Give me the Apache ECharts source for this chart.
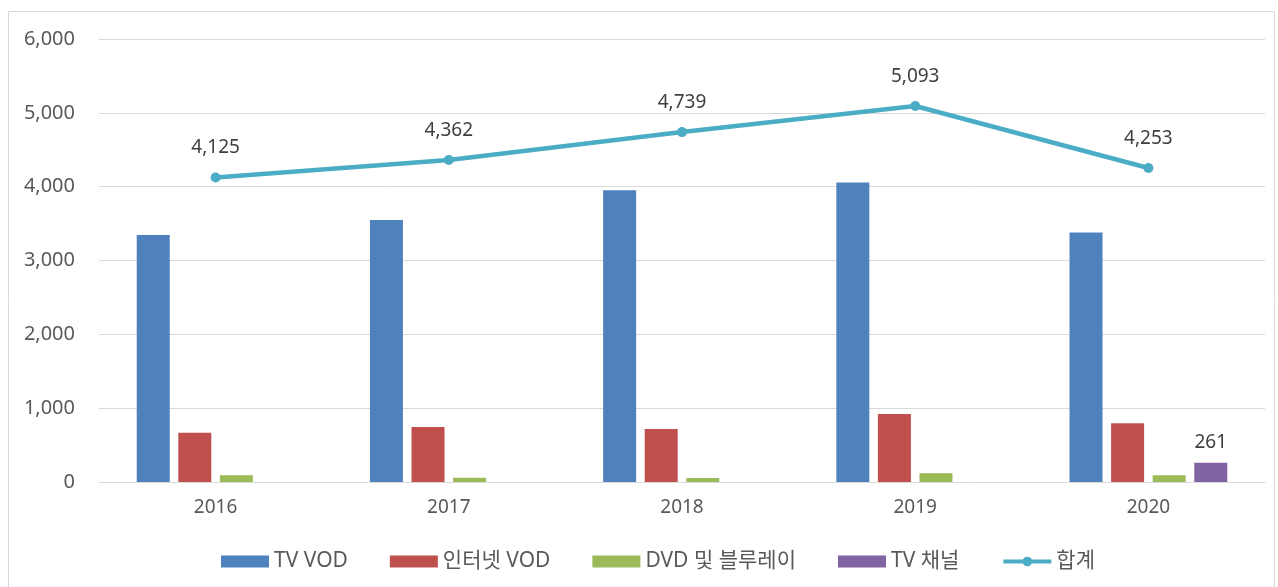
<!DOCTYPE html>
<html>
<head>
<meta charset="utf-8">
<script src="https://cdn.jsdelivr.net/npm/echarts@6/dist/echarts.min.js"></script>
<style>
html,body{margin:0;padding:0;background:#fff;}
#c{width:1278px;height:587px;}
</style>
</head>
<body>
<div id="c"></div>
<script>
const categories = ['2016', '2017', '2018', '2019', '2020'];
const tvVod = [3347, 3550, 3953, 4056, 3378];
const internetVod = [668, 745, 718, 921, 795];
const dvdBluray = [91, 58, 54, 118, 91];
const tvChannel = [null, null, null, null, 261];
const total = [4125, 4362, 4739, 5093, 4253];
const seriesNames = ['TV VOD', '인터넷 VOD', 'DVD 및 블루레이', 'TV 채널', '합계'];

const FONT = "'Noto Sans', 'Noto Sans CJK KR', sans-serif";
const chart = echarts.init(document.getElementById('c'), null, {renderer: 'canvas'});
const barColors = ['#4F81BD', '#C0504D', '#9BBB59', '#8064A2'];
const barData = [tvVod, internetVod, dvdBluray, tvChannel];

const series = barData.map((d, i) => ({
  name: seriesNames[i],
  type: 'bar',
  data: d,
  barWidth: 33,
  barGap: '26%',
  itemStyle: {color: barColors[i]},
  label: i === 3 ? {
    show: true, position: 'top', distance: 11,
    color: '#404040', fontSize: 19, fontFamily: FONT
  } : {show: false}
}));
series.push({
  name: seriesNames[4],
  type: 'line',
  data: total,
  symbol: 'circle',
  symbolSize: 10,
  lineStyle: {color: '#4BACC6', width: 4.5},
  itemStyle: {color: '#4BACC6'},
  label: {
    show: true, position: 'top', distance: 15,
    color: '#404040', fontSize: 19, fontFamily: FONT,
    formatter: p => p.value.toLocaleString('en-US')
  },
  z: 5
});

chart.setOption({
  animation: false,
  backgroundColor: '#fff',
  textStyle: {fontFamily: FONT},
  graphic: [{
    type: 'rect',
    shape: {x: 8.5, y: 11.5, width: 1266, height: 590},
    style: {fill: 'none', stroke: '#d9d9d9', lineWidth: 1},
    silent: true
  }],
  grid: {left: 99, right: 13, top: 39, bottom: 105, containLabel: false},
  legend: {
    top: 546,
    left: 216,
    itemWidth: 48,
    itemHeight: 12,
    itemGap: 42,
    textStyle: {color: '#595959', fontSize: 21, fontFamily: FONT},
    data: seriesNames.map((n, i) => i < 4 ? {name: n, icon: 'rect'} : {name: n, itemStyle: {color: '#4BACC6'}, lineStyle: {width: 4}})
  },
  xAxis: {
    type: 'category',
    data: categories,
    axisLine: {show: true, lineStyle: {color: '#d9d9d9'}},
    axisTick: {show: false},
    axisLabel: {color: '#595959', fontSize: 19, fontFamily: FONT, margin: 16}
  },
  yAxis: {
    type: 'value',
    min: 0, max: 6000, interval: 1000,
    axisLine: {show: false},
    axisTick: {show: false},
    splitLine: {lineStyle: {color: '#d9d9d9'}},
    axisLabel: {color: '#595959', fontSize: 20, fontFamily: FONT, margin: 24,
      formatter: v => v.toLocaleString('en-US')}
  },
  series: series
});
</script>
</body>
</html>
